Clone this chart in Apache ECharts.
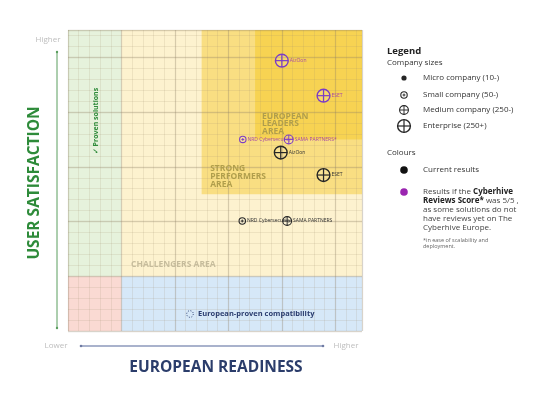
<!doctype html>
<html>
<head>
<meta charset="utf-8">
<title>European readiness / user satisfaction</title>
<script src="https://cdn.jsdelivr.net/npm/echarts@6/dist/echarts.min.js"></script>
<style>
html,body{margin:0;padding:0;background:#fff}
#main{width:550px;height:396px}
</style>
</head>
<body>
<div id="main"></div>
<script>
// x = european readiness, y = user satisfaction (0..5.5)
var companies = ['AizOon', 'ESET', 'NRD Cybersecurity', 'SAMA PARTNERS'];
var companySizes = ['enterprise', 'enterprise', 'small', 'medium'];
var currentX = [3.98, 4.78, 3.26, 4.10];
var currentY = [3.26, 2.85, 2.01, 2.01];
// if the cyberhive reviews score was 5/5
var scoreNames = ['AizOon', 'ESET', 'NRD Cybersecurity*', 'SAMA PARTNERS*'];
var scoreX = [4.00, 4.78, 3.27, 4.13];
var scoreY = [4.94, 4.30, 3.50, 3.50];

// background zones [x0, y0, x1, y1]
var zoneNames = ['none', 'compat', 'proven', 'challengers', 'strong', 'leaders'];
var zoneBounds = [
  [0, 0, 1, 1],
  [1, 0, 5.5, 1],
  [0, 1, 1, 5.5],
  [1, 1, 5.5, 5.5],
  [2.5, 2.5, 5.5, 5.5],
  [3.5, 3.5, 5.5, 5.5]
];
var areaNames = ['EUROPEAN\nLEADERS\nAREA', 'STRONG\nPERFORMERS\nAREA', 'CHALLENGERS AREA'];
var areaX = [3.63, 2.66, 1.18];
var areaY = [3.99, 3.03, 1.29];

var zoneColors = {
  none: '#fadad3', compat: '#d6e8f8', proven: '#e6f2dc',
  challengers: '#fdf2cf', strong: '#f9de82', leaders: '#f7d352'
};
var areaColors = ['#b09e4c', '#b09e4c', '#c6bc9c'];
var FONT = '"Open Sans", sans-serif';
var PURPLE = '#7b3cc6', PURPLE_TXT = '#a84aa6', BLACK = '#262626';
var radius = { micro: 2.6, small: 3.2, medium: 4.4, enterprise: 6.4 };

var chart = echarts.init(document.getElementById('main'));

// circle with a cross, like the legend symbols
function marker(cx, cy, size, color) {
  var r = radius[size];
  if (size == 'micro') {
    return [{ type: 'circle', shape: { cx: cx, cy: cy, r: r }, style: { fill: color } }];
  }
  var lw = size == 'enterprise' ? 1.4 : 1.1;
  var k = size == 'small' ? r * 0.45 : r;
  return [
    { type: 'circle', shape: { cx: cx, cy: cy, r: r }, style: { fill: 'rgba(255,255,255,0.15)', stroke: color, lineWidth: lw } },
    { type: 'line', shape: { x1: cx - k, y1: cy, x2: cx + k, y2: cy }, style: { stroke: color, lineWidth: lw * 0.85 } },
    { type: 'line', shape: { x1: cx, y1: cy - k, x2: cx, y2: cy + k }, style: { stroke: color, lineWidth: lw * 0.85 } }
  ];
}

function companyItem(color, txtColor, names) {
  return function (params, api) {
    var i = params.dataIndex;
    var p = api.coord([api.value(0), api.value(1)]);
    var kids = marker(p[0], p[1], companySizes[i], color);
    kids.push({
      type: 'text',
      style: { x: p[0] + radius[companySizes[i]] + 1.5, y: p[1], text: names[i], fill: txtColor,
        fontSize: 5, fontFamily: FONT, verticalAlign: 'middle', align: 'left' }
    });
    return { type: 'group', children: kids };
  };
}

function axisPair() {
  var base = { type: 'value', min: 0, max: 5.5, axisLabel: { show: false }, axisLine: { show: false }, axisTick: { show: false }, z: 3 };
  var minor = Object.assign({}, base, { interval: 0.2, splitLine: { show: true, lineStyle: { color: 'rgba(160,145,110,0.16)', width: 1 } } });
  var major = Object.assign({}, base, { interval: 1, splitLine: { show: true, lineStyle: { color: 'rgba(130,120,95,0.22)', width: 1.3 } } });
  return [minor, major];
}

var legendTexts = ['Micro company (10-)', 'Small company (50-)', 'Medium company (250-)', 'Enterprise (250+)'];
var legendSizes = ['micro', 'small', 'medium', 'enterprise'];
var legendY = [78, 95, 110, 126];

var graphic = [
  { type: 'text', style: { x: 48, y: 40, text: 'Higher', fill: '#bdbdbd', fontSize: 8, fontFamily: FONT, align: 'center', verticalAlign: 'middle' } },
  { type: 'line', shape: { x1: 57, y1: 52, x2: 57, y2: 328 }, style: { stroke: '#5a9e5e', lineWidth: 1 } },
  { type: 'circle', shape: { cx: 57, cy: 52, r: 1.2 }, style: { fill: '#5a9e5e' } },
  { type: 'circle', shape: { cx: 57, cy: 328, r: 1.2 }, style: { fill: '#5a9e5e' } },
  { type: 'text', x: 35, y: 183, rotation: Math.PI / 2,
    style: { x: 0, y: 0, text: 'USER SATISFACTION', fill: '#2e8b3a', fontSize: 15.5, fontWeight: 'bold', fontFamily: FONT, align: 'center', verticalAlign: 'middle' } },
  { type: 'text', style: { x: 56, y: 346, text: 'Lower', fill: '#bdbdbd', fontSize: 8, fontFamily: FONT, align: 'center', verticalAlign: 'middle' } },
  { type: 'text', style: { x: 346, y: 346, text: 'Higher', fill: '#bdbdbd', fontSize: 8, fontFamily: FONT, align: 'center', verticalAlign: 'middle' } },
  { type: 'line', shape: { x1: 81, y1: 346, x2: 323, y2: 346 }, style: { stroke: '#8d98bb', lineWidth: 1.3 } },
  { type: 'circle', shape: { cx: 81, cy: 346, r: 1.3 }, style: { fill: '#6f7ba3' } },
  { type: 'circle', shape: { cx: 323, cy: 346, r: 1.3 }, style: { fill: '#6f7ba3' } },
  { type: 'text', style: { x: 216, y: 368, text: 'EUROPEAN READINESS', fill: '#2b3d6b', fontSize: 15.5, fontWeight: 'bold', fontFamily: FONT, align: 'center', verticalAlign: 'middle' } },
  { type: 'text', x: 96, y: 121, rotation: Math.PI / 2, z: 10,
    style: { x: 0, y: 0, text: '\u2713 Proven solutions', fill: '#2e8b3a', fontSize: 7, fontWeight: 'bold', fontFamily: FONT, align: 'center', verticalAlign: 'middle' } },
  { type: 'circle', z: 10, shape: { cx: 190, cy: 314, r: 3.3 }, style: { fill: 'none', stroke: '#2c3e70', lineWidth: 1, lineDash: [1, 1.6] } },
  { type: 'text', z: 10, style: { x: 198, y: 314, text: 'European-proven compatibility', fill: '#2c3e70', fontSize: 7.5, fontWeight: 'bold', fontFamily: FONT, align: 'left', verticalAlign: 'middle' } },

  // legend
  { type: 'text', style: { x: 387, y: 51, text: 'Legend', fill: '#222', fontSize: 9.5, fontWeight: 'bold', fontFamily: FONT, verticalAlign: 'middle' } },
  { type: 'text', style: { x: 387, y: 63, text: 'Company sizes', fill: '#333', fontSize: 8, fontFamily: FONT, verticalAlign: 'middle' } },
  { type: 'text', style: { x: 387, y: 153, text: 'Colours', fill: '#333', fontSize: 8, fontFamily: FONT, verticalAlign: 'middle' } },
  { type: 'circle', shape: { cx: 404, cy: 170, r: 3.8 }, style: { fill: '#111' } },
  { type: 'text', style: { x: 423, y: 170, text: 'Current results', fill: '#333', fontSize: 8, fontFamily: FONT, verticalAlign: 'middle' } },
  { type: 'circle', shape: { cx: 404, cy: 192, r: 3.8 }, style: { fill: '#9a25b0' } },
  { type: 'text', style: { x: 423, y: 187.5, fill: '#444', fontSize: 8, fontFamily: FONT, verticalAlign: 'top', lineHeight: 9,
      text: 'Results if the {b|Cyberhive}\n{b|Reviews Score*} was 5/5 ,\nas some solutions do not\nhave reviews yet on The\nCyberhive Europe.',
      rich: { b: { fontWeight: 'bold', fontSize: 8, fontFamily: FONT, fill: '#222', lineHeight: 9 } } } },
  { type: 'text', style: { x: 423, y: 237, text: '*in ease of scalability and\ndeployment.', fill: '#666', fontSize: 5.5, lineHeight: 6, fontFamily: FONT, verticalAlign: 'top' } }
];
for (var i = 0; i < legendTexts.length; i++) {
  marker(404, legendY[i], legendSizes[i], BLACK).forEach(function (g) { graphic.push(g); });
  graphic.push({ type: 'text', style: { x: 423, y: legendY[i], text: legendTexts[i], fill: '#333', fontSize: 8, fontFamily: FONT, verticalAlign: 'middle' } });
}

var xs = axisPair(), ys = axisPair();

chart.setOption({
  animation: false,
  backgroundColor: '#fff',
  grid: { left: 68, right: 188, top: 30, bottom: 65 },
  xAxis: [xs[0], Object.assign(xs[1], { position: 'bottom' })],
  yAxis: [ys[0], Object.assign(ys[1], { position: 'left' })],
  graphic: graphic,
  series: [
    {
      type: 'custom', z: 1, silent: true,
      data: zoneBounds,
      renderItem: function (params, api) {
        var a = api.coord([api.value(0), api.value(1)]);
        var b = api.coord([api.value(2), api.value(3)]);
        return { type: 'rect', shape: { x: a[0], y: b[1], width: b[0] - a[0], height: a[1] - b[1] },
          style: { fill: zoneColors[zoneNames[params.dataIndex]] } };
      }
    },
    {
      type: 'custom', z: 4, silent: true,
      data: areaX.map(function (x, i) { return [x, areaY[i]]; }),
      renderItem: function (params, api) {
        var p = api.coord([api.value(0), api.value(1)]);
        return { type: 'text', style: { x: p[0], y: p[1], text: areaNames[params.dataIndex], fill: areaColors[params.dataIndex],
          fontSize: 8.5, fontWeight: 'bold', lineHeight: 7.6, fontFamily: FONT, align: 'left', verticalAlign: 'top' } };
      }
    },
    {
      type: 'custom', z: 5, silent: true,
      data: currentX.map(function (x, i) { return [x, currentY[i]]; }),
      renderItem: companyItem(BLACK, '#333', companies)
    },
    {
      type: 'custom', z: 5, silent: true,
      data: scoreX.map(function (x, i) { return [x, scoreY[i]]; }),
      renderItem: companyItem(PURPLE, PURPLE_TXT, scoreNames)
    }
  ]
});
</script>
</body>
</html>
